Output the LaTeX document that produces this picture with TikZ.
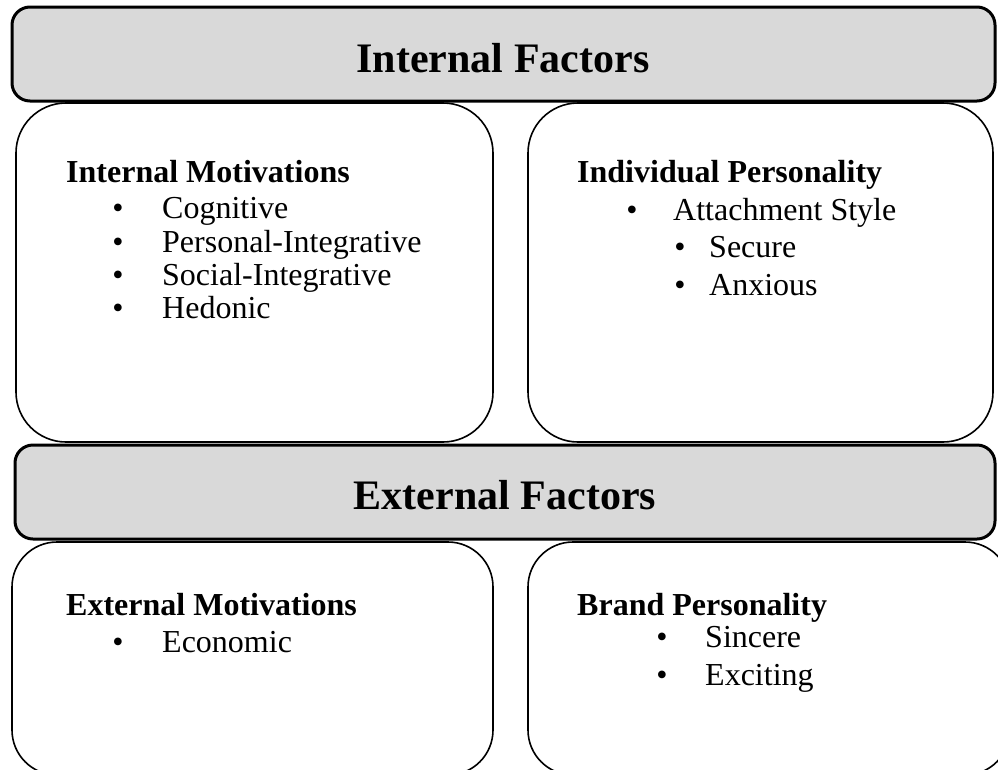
\documentclass[tikz,border=0pt]{standalone}
\usepackage{fontspec}
\setmainfont{Liberation Serif}
\usepackage{tikz}
\definecolor{bannergray}{RGB}{217,217,217}
\tikzset{banner/.style={draw, line width=3pt, fill=bannergray, rounded corners=18pt, inner sep=0pt},
  panel/.style={draw, line width=1.6pt, rounded corners=50pt, inner sep=0pt},
  bigtitle/.style={anchor=base, inner sep=0pt, font=\bfseries\fontsize{42}{50}\selectfont},
  head/.style={anchor=base west, inner sep=0pt, font=\bfseries\fontsize{32}{38}\selectfont},
  item/.style={anchor=base west, inner sep=0pt, font=\fontsize{32}{38}\selectfont},
  dot/.style={anchor=base, inner sep=0pt, font=\fontsize{32}{38}\selectfont}}

\begin{document}
\begin{tikzpicture}[x=1pt, y=-1pt]
		\useasboundingbox (0,0) rectangle (998,769);
		% boxes
		\node[panel, minimum width=477pt, minimum height=339pt] (intmot) at (254.5,272.5) {};
		\node[panel, minimum width=465pt, minimum height=339pt] (indpers) at (760.5,272.5) {};
		\node[panel, rounded corners=45pt, minimum width=481pt, minimum height=233pt] (extmot) at (252.5,658.5) {};
		\node[panel, rounded corners=45pt, minimum width=482pt, minimum height=233pt] (brand) at (769,658.5) {};
		% banners
		\node[banner, minimum width=983pt, minimum height=94pt] (topbar) at (503.5,54) {};
		\node[banner, minimum width=980pt, minimum height=94pt] (midbar) at (505,492) {};
		\node[bigtitle] (inttitle) at (503,72) {Internal Factors};
		\node[bigtitle] (exttitle) at (505,509) {External Factors};
		% internal motivations
		\node[head] (imhead) at (66,182) {Internal Motivations};
		\foreach \y/\t [count=\i] in {218/Cognitive, 252/Personal-Integrative, 285/Social-Integrative, 318/Hedonic}{
			\node[dot] (imdot\i) at (118,\y) {\textbullet};
			\node[item] (im\i) at (162,\y) {\t};
		}
		% individual personality
		\node[head] (iphead) at (577,182) {Individual Personality};
		\node[dot] (ipdot1) at (632,220) {\textbullet};
		\node[item] (ip1) at (673,220) {Attachment Style};
		\foreach \y/\t [count=\i] in {257/Secure, 295/Anxious}{
			\node[dot] (ipsubdot\i) at (680,\y) {\textbullet};
			\node[item] (ipsub\i) at (709,\y) {\t};
		}
		% external motivations
		\node[head] (emhead) at (66,615) {External Motivations};
		\node[dot] (emdot1) at (118,652) {\textbullet};
		\node[item] (em1) at (162,652) {Economic};
		% brand personality
		\node[head] (bphead) at (577,615) {Brand Personality};
		\foreach \y/\t [count=\i] in {647/Sincere, 685/Exciting}{
			\node[dot] (bpdot\i) at (662,\y) {\textbullet};
			\node[item] (bp\i) at (705,\y) {\t};
		}
\end{tikzpicture}
\end{document}
